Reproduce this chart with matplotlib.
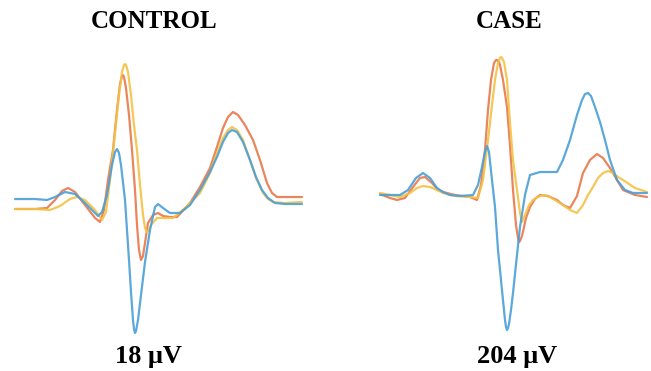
import matplotlib.pyplot as plt

# traces (x in px, y in px from top)
ctrl_blue_x = [15, 35, 47, 55, 65, 75, 85, 95, 98, 102, 107, 112, 115, 117, 119, 121, 125, 129, 131, 133, 134,
               135, 136, 138, 141, 145, 150, 155, 158, 163, 170, 180, 190, 200, 210, 217, 223, 228, 232, 237,
               243, 250, 256, 262, 268, 275, 285, 302]
ctrl_blue_y = [199, 199, 200, 197, 192, 194, 203, 213, 216, 212, 195, 165, 152, 149, 153, 165, 200, 260, 292,
               320, 329, 333, 331, 320, 295, 262, 230, 207, 204, 208, 213, 213, 205, 190, 172, 157, 142, 133,
               130, 132, 142, 160, 177, 190, 198, 203, 204, 204]

ctrl_orange_x = [15, 35, 47, 55, 62, 68, 75, 85, 95, 100, 104, 108, 113, 117, 120, 122, 123, 124, 126, 129,
                 132, 135, 137, 139, 141, 143, 145, 148, 153, 158, 163, 170, 177, 190, 200, 210, 217, 223, 228,
                 233, 238, 245, 253, 260, 267, 272, 277, 290, 302]
ctrl_orange_y = [209, 209, 208, 200, 191, 188, 192, 205, 218, 222, 210, 180, 150, 110, 84, 76, 75, 77, 88,
                 115, 150, 190, 225, 250, 260, 256, 243, 223, 215, 213, 216, 217, 217, 203, 187, 168, 147, 128,
                 117, 112, 115, 125, 140, 160, 183, 193, 197, 197, 197]

ctrl_yellow_x = [15, 35, 50, 60, 70, 77, 85, 95, 102, 106, 110, 115, 119, 122, 124, 125, 126, 128, 131, 134,
                 137, 140, 143, 145, 147, 149, 151, 157, 165, 173, 185, 200, 210, 217, 223, 228, 232, 237, 243,
                 250, 256, 263, 268, 273, 285, 302]
ctrl_yellow_y = [209, 209, 210, 206, 199, 197, 200, 210, 220, 212, 180, 133, 95, 72, 65, 64, 65, 72, 95, 125,
                 150, 185, 215, 228, 232, 230, 225, 218, 218, 218, 208, 193, 173, 153, 138, 130, 127, 130, 140,
                 160, 178, 193, 199, 202, 203, 202]

case_blue_x = [380, 390, 400, 408, 416, 423, 430, 437, 443, 450, 460, 473, 478, 482, 485, 487, 489, 492, 495,
               498, 502, 505, 506, 507, 508, 509, 511, 513, 517, 520, 525, 530, 540, 550, 557, 563, 570, 577,
               582, 585, 588, 591, 595, 600, 605, 610, 617, 625, 633, 647]
case_blue_y = [195, 195, 195, 190, 178, 173, 178, 188, 192, 195, 196, 195, 185, 167, 152, 146, 152, 180, 207,
               250, 290, 320, 327, 330, 328, 324, 310, 293, 255, 227, 195, 175, 172, 172, 172, 160, 140, 115,
               100, 94, 93, 96, 107, 122, 140, 160, 180, 190, 193, 193]

case_orange_x = [380, 390, 397, 405, 413, 420, 425, 432, 438, 443, 455, 470, 477, 481, 485, 488, 491, 494, 496,
                 497, 499, 500, 503, 507, 510, 513, 516, 518, 519, 520, 522, 526, 530, 535, 540, 548, 557, 563,
                 570, 577, 583, 590, 597, 603, 610, 617, 623, 635, 647]
case_orange_y = [194, 198, 200, 198, 187, 178, 177, 183, 190, 192, 195, 197, 200, 185, 150, 110, 80, 63, 60,
                 60, 62, 65, 80, 107, 145, 190, 225, 238, 242, 241, 236, 218, 207, 199, 195, 196, 200, 205, 208,
                 196, 173, 160, 154, 158, 168, 180, 190, 195, 197]

case_yellow_x = [380, 390, 400, 410, 417, 423, 430, 437, 443, 455, 470, 478, 483, 488, 492, 495, 498, 500, 501,
                 502, 504, 507, 510, 513, 517, 520, 522, 525, 529, 533, 538, 543, 550, 563, 570, 577, 583, 588,
                 593, 598, 603, 608, 613, 618, 623, 635, 647]
case_yellow_y = [193, 195, 197, 193, 188, 186, 187, 190, 193, 196, 197, 198, 180, 140, 105, 80, 63, 58, 57, 58,
                 62, 80, 123, 160, 190, 213, 222, 215, 205, 200, 197, 195, 197, 205, 210, 213, 205, 195, 187,
                 178, 173, 171, 173, 177, 180, 188, 192]

titles = ['CONTROL', 'CASE']
amplitudes = ['18 μV', '204 μV']

BLUE = '#4a9fd8'
ORANGE = '#e8784a'
YELLOW = '#f3c244'

fig = plt.figure(figsize=(6.51, 3.71), dpi=100)
ax = fig.add_axes([0, 0, 1, 1])
ax.set_xlim(0, 651)
ax.set_ylim(371, 0)
ax.axis('off')

kw = dict(lw=1.6, alpha=0.9, solid_joinstyle='round', solid_capstyle='round')
for xs, ys, c in [(ctrl_orange_x, ctrl_orange_y, ORANGE), (ctrl_yellow_x, ctrl_yellow_y, YELLOW),
                  (ctrl_blue_x, ctrl_blue_y, BLUE),
                  (case_orange_x, case_orange_y, ORANGE), (case_yellow_x, case_yellow_y, YELLOW),
                  (case_blue_x, case_blue_y, BLUE)]:
    ax.plot(xs, ys, color=c, **kw)

tf = dict(family='Liberation Serif', weight='bold', fontsize=18, ha='center', va='center')
fig.text(154 / 651, 1 - 21 / 371, titles[0], **tf)
fig.text(509 / 651, 1 - 21 / 371, titles[1], **tf)
fig.text(148 / 651, 1 - 357 / 371, amplitudes[0], fontsize=19,
         **{k: v for k, v in tf.items() if k != 'fontsize'})
fig.text(517 / 651, 1 - 357 / 371, amplitudes[1], fontsize=19,
         **{k: v for k, v in tf.items() if k != 'fontsize'})

fig.savefig('out.png', dpi=100)
